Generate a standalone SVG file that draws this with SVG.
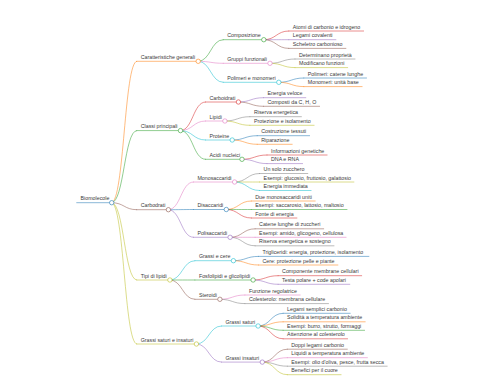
<svg xmlns="http://www.w3.org/2000/svg" width="480" height="384" viewBox="0 0 480 384">
<style>
.t{font-family:"Liberation Sans",Arial,sans-serif;font-size:5.3px;fill:#3a3a3a}
path,line{fill:none;stroke-width:0.85;stroke-linecap:round;stroke-opacity:0.62}
circle{fill:#fff;stroke-width:0.8;stroke-opacity:0.75}
.c0{stroke:#1f77b4}.c1{stroke:#ff7f0e}.c2{stroke:#2ca02c}.c3{stroke:#d62728}.c4{stroke:#9467bd}
.c5{stroke:#8c564b}.c6{stroke:#e377c2}.c7{stroke:#7f7f7f}.c8{stroke:#bcbd22}.c9{stroke:#17becf}
</style>
<rect width="480" height="384" fill="#fff"/>
<g id="connectors">
<path class="c1" d="M111.7,202.7 C124.2,202.7 124.2,61.3 136.7,61.3"/>
<path class="c2" d="M111.7,202.7 C124.2,202.7 124.2,130.6 136.7,130.6"/>
<path class="c5" d="M111.7,202.7 C124.2,202.7 124.2,209.7 136.7,209.7"/>
<path class="c8" d="M111.7,202.7 C124.2,202.7 124.2,280 136.7,280"/>
<path class="c8" d="M111.7,202.7 C124.2,202.7 124.2,344 136.7,344"/>
<path class="c2" d="M198.2,61.3 C210.7,61.3 210.7,39.7 223.2,39.7"/>
<path class="c6" d="M198.2,61.3 C210.7,61.3 210.7,63.3 223.2,63.3"/>
<path class="c9" d="M198.2,61.3 C210.7,61.3 210.7,82.3 223.2,82.3"/>
<path class="c3" d="M263.8,39.7 C276.3,39.7 276.3,31 288.8,31"/>
<path class="c4" d="M263.8,39.7 C276.3,39.7 276.3,39.7 288.8,39.7"/>
<path class="c5" d="M263.8,39.7 C276.3,39.7 276.3,48.4 288.8,48.4"/>
<path class="c7" d="M270,63.3 C282.5,63.3 282.5,59 295,59"/>
<path class="c8" d="M270,63.3 C282.5,63.3 282.5,67.6 295,67.6"/>
<path class="c0" d="M278.8,82.3 C291.3,82.3 291.3,78 303.8,78"/>
<path class="c1" d="M278.8,82.3 C291.3,82.3 291.3,86.6 303.8,86.6"/>
<path class="c3" d="M180.5,130.6 C193,130.6 193,102 205.5,102"/>
<path class="c6" d="M180.5,130.6 C193,130.6 193,121 205.5,121"/>
<path class="c9" d="M180.5,130.6 C193,130.6 193,140 205.5,140"/>
<path class="c2" d="M180.5,130.6 C193,130.6 193,159.3 205.5,159.3"/>
<path class="c4" d="M238.4,102 C250.9,102 250.9,97.7 263.4,97.7"/>
<path class="c5" d="M238.4,102 C250.9,102 250.9,106.3 263.4,106.3"/>
<path class="c7" d="M224.9,121 C237.4,121 237.4,116.7 249.9,116.7"/>
<path class="c8" d="M224.9,121 C237.4,121 237.4,125.3 249.9,125.3"/>
<path class="c0" d="M232.2,140 C244.7,140 244.7,135.7 257.2,135.7"/>
<path class="c1" d="M232.2,140 C244.7,140 244.7,144.3 257.2,144.3"/>
<path class="c3" d="M242,159.3 C254.5,159.3 254.5,155 267,155"/>
<path class="c4" d="M242,159.3 C254.5,159.3 254.5,163.6 267,163.6"/>
<path class="c6" d="M168.4,209.7 C180.9,209.7 180.9,182 193.4,182"/>
<path class="c0" d="M168.4,209.7 C180.9,209.7 180.9,209.5 193.4,209.5"/>
<path class="c4" d="M168.4,209.7 C180.9,209.7 180.9,237.3 193.4,237.3"/>
<path class="c7" d="M234.6,182 C247.1,182 247.1,173.5 259.6,173.5"/>
<path class="c8" d="M234.6,182 C247.1,182 247.1,182 259.6,182"/>
<path class="c9" d="M234.6,182 C247.1,182 247.1,190.5 259.6,190.5"/>
<path class="c1" d="M226.3,209.5 C238.8,209.5 238.8,201 251.3,201"/>
<path class="c2" d="M226.3,209.5 C238.8,209.5 238.8,209.5 251.3,209.5"/>
<path class="c3" d="M226.3,209.5 C238.8,209.5 238.8,218 251.3,218"/>
<path class="c5" d="M230.1,237.3 C242.6,237.3 242.6,228.8 255.1,228.8"/>
<path class="c6" d="M230.1,237.3 C242.6,237.3 242.6,237.3 255.1,237.3"/>
<path class="c7" d="M230.1,237.3 C242.6,237.3 242.6,245.8 255.1,245.8"/>
<path class="c9" d="M169.9,280 C182.4,280 182.4,260.7 194.9,260.7"/>
<path class="c2" d="M169.9,280 C182.4,280 182.4,280 194.9,280"/>
<path class="c5" d="M169.9,280 C182.4,280 182.4,299.3 194.9,299.3"/>
<path class="c0" d="M233.4,260.7 C245.9,260.7 245.9,256.4 258.4,256.4"/>
<path class="c1" d="M233.4,260.7 C245.9,260.7 245.9,265 258.4,265"/>
<path class="c3" d="M253.1,280 C265.6,280 265.6,275.7 278.1,275.7"/>
<path class="c4" d="M253.1,280 C265.6,280 265.6,284.3 278.1,284.3"/>
<path class="c6" d="M219.9,299.3 C232.4,299.3 232.4,295 244.9,295"/>
<path class="c7" d="M219.9,299.3 C232.4,299.3 232.4,303.6 244.9,303.6"/>
<path class="c9" d="M196.4,344 C208.9,344 208.9,326 221.4,326"/>
<path class="c4" d="M196.4,344 C208.9,344 208.9,362.1 221.4,362.1"/>
<path class="c0" d="M258.1,326 C270.6,326 270.6,313.3 283.1,313.3"/>
<path class="c1" d="M258.1,326 C270.6,326 270.6,321.8 283.1,321.8"/>
<path class="c2" d="M258.1,326 C270.6,326 270.6,330.3 283.1,330.3"/>
<path class="c3" d="M258.1,326 C270.6,326 270.6,338.8 283.1,338.8"/>
<path class="c5" d="M262.3,362.1 C274.8,362.1 274.8,349.2 287.3,349.2"/>
<path class="c6" d="M262.3,362.1 C274.8,362.1 274.8,357.7 287.3,357.7"/>
<path class="c7" d="M262.3,362.1 C274.8,362.1 274.8,366.2 287.3,366.2"/>
<path class="c8" d="M262.3,362.1 C274.8,362.1 274.8,374.7 287.3,374.7"/>
</g>
<g id="n-root"><line class="c0" x1="76.7" y1="202.7" x2="111.7" y2="202.7"/><circle class="c0" cx="111.7" cy="202.7" r="2.2"/><text class="t" x="80.5" y="200.3">Biomolecole</text></g>
<g id="n-caratteristiche"><line class="c1" x1="136.7" y1="61.3" x2="198.2" y2="61.3"/><circle class="c1" cx="198.2" cy="61.3" r="2.2"/><text class="t" x="140.7" y="58.9">Caratteristiche generali</text></g>
<g id="n-composizione"><line class="c2" x1="223.2" y1="39.7" x2="263.8" y2="39.7"/><circle class="c2" cx="263.8" cy="39.7" r="2.2"/><text class="t" x="227.2" y="37.3">Composizione</text></g>
<g id="n-atomi"><line class="c3" x1="288.8" y1="31" x2="363.6" y2="31"/><text class="t" x="292.8" y="28.6">Atomi di carbonio e idrogeno</text></g>
<g id="n-legami"><line class="c4" x1="288.8" y1="39.7" x2="335.9" y2="39.7"/><text class="t" x="292.8" y="37.3">Legami covalenti</text></g>
<g id="n-scheletro"><line class="c5" x1="288.8" y1="48.4" x2="345.9" y2="48.4"/><text class="t" x="292.8" y="46">Scheletro carbonioso</text></g>
<g id="n-gruppi"><line class="c6" x1="223.2" y1="63.3" x2="270" y2="63.3"/><circle class="c6" cx="270" cy="63.3" r="2.2"/><text class="t" x="227.2" y="60.9">Gruppi funzionali</text></g>
<g id="n-determinano"><line class="c7" x1="295" y1="59" x2="355" y2="59"/><text class="t" x="299" y="56.6">Determinano proprietà</text></g>
<g id="n-modificano"><line class="c8" x1="295" y1="67.6" x2="347.7" y2="67.6"/><text class="t" x="299" y="65.2">Modificano funzioni</text></g>
<g id="n-polimeri-monomeri"><line class="c9" x1="223.2" y1="82.3" x2="278.8" y2="82.3"/><circle class="c9" cx="278.8" cy="82.3" r="2.2"/><text class="t" x="227.2" y="79.9">Polimeri e monomeri</text></g>
<g id="n-polimeri"><line class="c0" x1="303.8" y1="78" x2="366.5" y2="78"/><text class="t" x="307.8" y="75.6">Polimeri: catene lunghe</text></g>
<g id="n-monomeri"><line class="c1" x1="303.8" y1="86.6" x2="362.1" y2="86.6"/><text class="t" x="307.8" y="84.2">Monomeri: unità base</text></g>
<g id="n-classi"><line class="c2" x1="136.7" y1="130.6" x2="180.5" y2="130.6"/><circle class="c2" cx="180.5" cy="130.6" r="2.2"/><text class="t" x="140.7" y="128.2">Classi principali</text></g>
<g id="n-carboidrati"><line class="c3" x1="205.5" y1="102" x2="238.4" y2="102"/><circle class="c3" cx="238.4" cy="102" r="2.2"/><text class="t" x="209.5" y="99.6">Carboidrati</text></g>
<g id="n-energia-veloce"><line class="c4" x1="263.4" y1="97.7" x2="305.8" y2="97.7"/><text class="t" x="267.4" y="95.3">Energia veloce</text></g>
<g id="n-composti"><line class="c5" x1="263.4" y1="106.3" x2="319.6" y2="106.3"/><text class="t" x="267.4" y="103.9">Composti da C, H, O</text></g>
<g id="n-lipidi"><line class="c6" x1="205.5" y1="121" x2="224.9" y2="121"/><circle class="c6" cx="224.9" cy="121" r="2.2"/><text class="t" x="209.5" y="118.6">Lipidi</text></g>
<g id="n-riserva"><line class="c7" x1="249.9" y1="116.7" x2="301.4" y2="116.7"/><text class="t" x="253.9" y="114.3">Riserva energetica</text></g>
<g id="n-protezione"><line class="c8" x1="249.9" y1="125.3" x2="314.1" y2="125.3"/><text class="t" x="253.9" y="122.9">Protezione e isolamento</text></g>
<g id="n-proteine"><line class="c9" x1="205.5" y1="140" x2="232.2" y2="140"/><circle class="c9" cx="232.2" cy="140" r="2.2"/><text class="t" x="209.5" y="137.6">Proteine</text></g>
<g id="n-costruzione"><line class="c0" x1="257.2" y1="135.7" x2="309.6" y2="135.7"/><text class="t" x="261.2" y="133.3">Costruzione tessuti</text></g>
<g id="n-riparazione"><line class="c1" x1="257.2" y1="144.3" x2="292.2" y2="144.3"/><text class="t" x="261.2" y="141.9">Riparazione</text></g>
<g id="n-acidi"><line class="c2" x1="205.5" y1="159.3" x2="242" y2="159.3"/><circle class="c2" cx="242" cy="159.3" r="2.2"/><text class="t" x="209.5" y="156.9">Acidi nucleici</text></g>
<g id="n-informazioni"><line class="c3" x1="267" y1="155" x2="327.1" y2="155"/><text class="t" x="271" y="152.6">Informazioni genetiche</text></g>
<g id="n-dna"><line class="c4" x1="267" y1="163.6" x2="302.6" y2="163.6"/><text class="t" x="271" y="161.2">DNA e RNA</text></g>
<g id="n-carbodrati"><line class="c5" x1="136.7" y1="209.7" x2="168.4" y2="209.7"/><circle class="c5" cx="168.4" cy="209.7" r="2.2"/><text class="t" x="140.7" y="207.3">Carbodrati</text></g>
<g id="n-mono"><line class="c6" x1="193.4" y1="182" x2="234.6" y2="182"/><circle class="c6" cx="234.6" cy="182" r="2.2"/><text class="t" x="197.4" y="179.6">Monosaccaridi</text></g>
<g id="n-solo"><line class="c7" x1="259.6" y1="173.5" x2="307.8" y2="173.5"/><text class="t" x="263.6" y="171.1">Un solo zucchero</text></g>
<g id="n-es-gluc"><line class="c8" x1="259.6" y1="182" x2="353.9" y2="182"/><text class="t" x="263.6" y="179.6">Esempi: glucosio, fruttosio, galattosio</text></g>
<g id="n-energia-imm"><line class="c9" x1="259.6" y1="190.5" x2="311.1" y2="190.5"/><text class="t" x="263.6" y="188.1">Energia immediata</text></g>
<g id="n-di"><line class="c0" x1="193.4" y1="209.5" x2="226.3" y2="209.5"/><circle class="c0" cx="226.3" cy="209.5" r="2.2"/><text class="t" x="197.4" y="207.1">Disaccaridi</text></g>
<g id="n-due"><line class="c1" x1="251.3" y1="201" x2="315.2" y2="201"/><text class="t" x="255.3" y="198.6">Due monosaccaridi uniti</text></g>
<g id="n-es-sacc"><line class="c2" x1="251.3" y1="209.5" x2="347" y2="209.5"/><text class="t" x="255.3" y="207.1">Esempi: saccarosio, lattosio, maltosio</text></g>
<g id="n-fonte"><line class="c3" x1="251.3" y1="218" x2="296.9" y2="218"/><text class="t" x="255.3" y="215.6">Fonte di energia</text></g>
<g id="n-poli"><line class="c4" x1="193.4" y1="237.3" x2="230.1" y2="237.3"/><circle class="c4" cx="230.1" cy="237.3" r="2.2"/><text class="t" x="197.4" y="234.9">Polisaccaridi</text></g>
<g id="n-catene"><line class="c5" x1="255.1" y1="228.8" x2="323.7" y2="228.8"/><text class="t" x="259.1" y="226.4">Catene lunghe di zuccheri</text></g>
<g id="n-es-amido"><line class="c6" x1="255.1" y1="237.3" x2="346.1" y2="237.3"/><text class="t" x="259.1" y="234.9">Esempi: amido, glicogeno, cellulosa</text></g>
<g id="n-riserva-sost"><line class="c7" x1="255.1" y1="245.8" x2="334" y2="245.8"/><text class="t" x="259.1" y="243.4">Riserva energetica e sostegno</text></g>
<g id="n-tipi"><line class="c8" x1="136.7" y1="280" x2="169.9" y2="280"/><circle class="c8" cx="169.9" cy="280" r="2.2"/><text class="t" x="140.7" y="277.6">Tipi di lipidi</text></g>
<g id="n-grassi-cere"><line class="c9" x1="194.9" y1="260.7" x2="233.4" y2="260.7"/><circle class="c9" cx="233.4" cy="260.7" r="2.2"/><text class="t" x="198.9" y="258.3">Grassi e cere</text></g>
<g id="n-trigliceridi"><line class="c0" x1="258.4" y1="256.4" x2="368.9" y2="256.4"/><text class="t" x="262.4" y="254">Trigliceridi: energia, protezione, isolamento</text></g>
<g id="n-cere"><line class="c1" x1="258.4" y1="265" x2="337.9" y2="265"/><text class="t" x="262.4" y="262.6">Cere: protezione pelle e piante</text></g>
<g id="n-fosfo"><line class="c2" x1="194.9" y1="280" x2="253.1" y2="280"/><circle class="c2" cx="253.1" cy="280" r="2.2"/><text class="t" x="198.9" y="277.6">Fosfolipidi e glicolipidi</text></g>
<g id="n-componente"><line class="c3" x1="278.1" y1="275.7" x2="361.7" y2="275.7"/><text class="t" x="282.1" y="273.3">Componente membrane cellulari</text></g>
<g id="n-testa"><line class="c4" x1="278.1" y1="284.3" x2="349.8" y2="284.3"/><text class="t" x="282.1" y="281.9">Testa polare + code apolari</text></g>
<g id="n-steroidi"><line class="c5" x1="194.9" y1="299.3" x2="219.9" y2="299.3"/><circle class="c5" cx="219.9" cy="299.3" r="2.2"/><text class="t" x="198.9" y="296.9">Steroidi</text></g>
<g id="n-funzione"><line class="c6" x1="244.9" y1="295" x2="300.2" y2="295"/><text class="t" x="248.9" y="292.6">Funzione regolatrice</text></g>
<g id="n-colesterolo"><line class="c7" x1="244.9" y1="303.6" x2="328.5" y2="303.6"/><text class="t" x="248.9" y="301.2">Colesterolo: membrana cellulare</text></g>
<g id="n-gsi"><line class="c8" x1="136.7" y1="344" x2="196.4" y2="344"/><circle class="c8" cx="196.4" cy="344" r="2.2"/><text class="t" x="140.7" y="341.6">Grassi saturi e insaturi</text></g>
<g id="n-saturi"><line class="c9" x1="221.4" y1="326" x2="258.1" y2="326"/><circle class="c9" cx="258.1" cy="326" r="2.2"/><text class="t" x="225.4" y="323.6">Grassi saturi</text></g>
<g id="n-semplici"><line class="c0" x1="283.1" y1="313.3" x2="350.2" y2="313.3"/><text class="t" x="287.1" y="310.9">Legami semplici carbonio</text></g>
<g id="n-solidita"><line class="c1" x1="283.1" y1="321.8" x2="365.2" y2="321.8"/><text class="t" x="287.1" y="319.4">Solidità a temperatura ambiente</text></g>
<g id="n-es-burro"><line class="c2" x1="283.1" y1="330.3" x2="364.6" y2="330.3"/><text class="t" x="287.1" y="327.9">Esempi: burro, strutto, formaggi</text></g>
<g id="n-attenzione"><line class="c3" x1="283.1" y1="338.8" x2="347.6" y2="338.8"/><text class="t" x="287.1" y="336.4">Attenzione al colesterolo</text></g>
<g id="n-insaturi"><line class="c4" x1="221.4" y1="362.1" x2="262.3" y2="362.1"/><circle class="c4" cx="262.3" cy="362.1" r="2.2"/><text class="t" x="225.4" y="359.7">Grassi insaturi</text></g>
<g id="n-doppi"><line class="c5" x1="287.3" y1="349.2" x2="347.3" y2="349.2"/><text class="t" x="291.3" y="346.8">Doppi legami carbonio</text></g>
<g id="n-liquidi"><line class="c6" x1="287.3" y1="357.7" x2="367.4" y2="357.7"/><text class="t" x="291.3" y="355.3">Liquidi a temperatura ambiente</text></g>
<g id="n-es-olio"><line class="c7" x1="287.3" y1="366.2" x2="387.2" y2="366.2"/><text class="t" x="291.3" y="363.8">Esempi: olio d'oliva, pesce, frutta secca</text></g>
<g id="n-benefici"><line class="c8" x1="287.3" y1="374.7" x2="341.1" y2="374.7"/><text class="t" x="291.3" y="372.3">Benefici per il cuore</text></g>
</svg>
